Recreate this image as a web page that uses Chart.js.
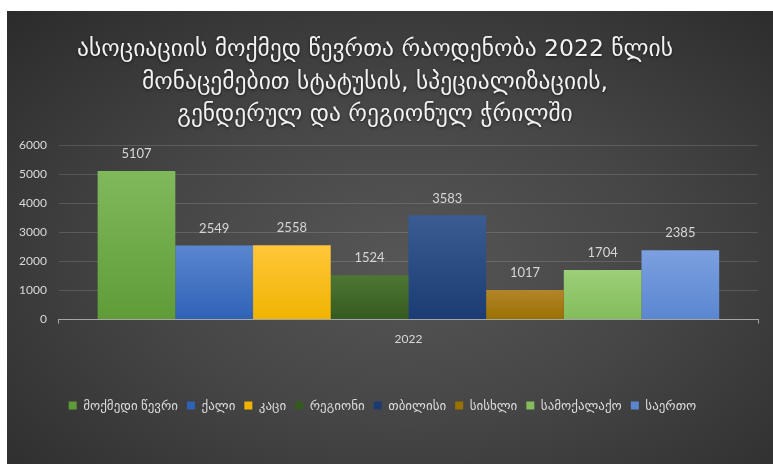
<!DOCTYPE html>
<html>
<head>
<meta charset="utf-8">
<script src="https://cdn.jsdelivr.net/npm/chart.js@4.4.0/dist/chart.umd.min.js"></script>
<style>
  html, body { margin: 0; padding: 0; background: #fff; }
  #wrap {
    position: absolute; left: 7px; top: 11px; width: 766px; height: 453px;
    background: radial-gradient(ellipse at 52% 55%, #565656 0%, #464646 45%, #2b2b2b 100%);
  }
</style>
</head>
<body>
<div id="wrap"><canvas id="myChart" width="766" height="453"></canvas></div>
<script>
// data
var categories = ['2022'];
var seriesNames = ['მოქმედი წევრი', 'ქალი', 'კაცი', 'რეგიონი', 'თბილისი', 'სისხლი', 'სამოქალაქო', 'საერთო'];
var seriesValues = [5107, 2549, 2558, 1524, 3583, 1017, 1704, 2385];
var yTicks = [0, 1000, 2000, 3000, 4000, 5000, 6000];
var titleLines = [
	'ასოციაციის მოქმედ წევრთა რაოდენობა 2022 წლის',
	'მონაცემებით სტატუსის, სპეციალიზაციის,',
	'გენდერულ და რეგიონულ ჭრილში'
];

// colors top / bottom of each bar gradient
var topColors = ['#80b95c', '#5b86d0', '#ffc73a', '#4d7734', '#3b5b93', '#b3852a', '#9ccf78', '#7ca0e0'];
var bottomColors = ['#5f9c37', '#2f62b6', '#f0b400', '#355a1f', '#1b3b73', '#9a7000', '#84bc5c', '#5a86d0'];

var FONT = "Lato, 'DejaVu Sans', sans-serif";

function barGradient(i){
	return function(context){
		var chart = context.chart;
		var y = chart.scales.y;
		if(!y || !chart.chartArea) return topColors[i];
		var top = y.getPixelForValue(seriesValues[i]);
		var bottom = y.getPixelForValue(0);
		var g = chart.ctx.createLinearGradient(0, top, 0, bottom);
		g.addColorStop(0, topColors[i]);
		g.addColorStop(1, bottomColors[i]);
		return g;
	};
}

var datasets = [];
seriesNames.forEach(function(name, i){
	datasets.push({
		label: name,
		data: [seriesValues[i]],
		backgroundColor: barGradient(i),
		borderWidth: 0,
		categoryPercentage: 0.889,
		barPercentage: 1.0
	});
});

//title drawn by hand so it can sit a little left of center like the original
var titlePlugin = {
	id: 'titleLines',
	afterDraw: function(chart){
		var ctx = chart.ctx;
		ctx.save();
		ctx.font = "23.5px 'DejaVu Sans', sans-serif";
		ctx.fillStyle = '#f2f2f2';
		ctx.textAlign = 'center';
		ctx.textBaseline = 'middle';
		ctx.shadowColor = 'rgba(0,0,0,0.6)';
		ctx.shadowBlur = 3;
		ctx.shadowOffsetY = 1;
		var ys = [39, 72, 104];
		titleLines.forEach(function(t, k){
			ctx.fillText(t, 368, ys[k]);
		});
		ctx.restore();
	}
};

//value labels over bars
var valuePlugin = {
	id: 'valueLabels',
	afterDatasetsDraw: function(chart){
		var ctx = chart.ctx;
		ctx.save();
		ctx.font = '13px ' + FONT;
		ctx.fillStyle = '#d6d6d6';
		ctx.textAlign = 'center';
		ctx.textBaseline = 'middle';
		chart.data.datasets.forEach(function(ds, i){
			var meta = chart.getDatasetMeta(i);
			meta.data.forEach(function(bar, k){
				ctx.fillText(String(ds.data[k]), bar.x, bar.y - 17);
			});
		});
		ctx.restore();
	}
};

var ctx = document.getElementById('myChart');
var myChart = new Chart(ctx, {
	type: 'bar',
	data: {
		labels: categories,
		datasets: datasets
	},
	plugins: [titlePlugin, valuePlugin],
	options: {
		responsive: false,
		animation: false,
		layout: {
			padding: { left: 0, right: 15, top: 134, bottom: 42 }
		},
		plugins: {
			title: { display: false },
			tooltip: { enabled: false },
			legend: {
				position: 'bottom',
				labels: {
					color: '#d9d9d9',
					font: { family: FONT, size: 13 },
					boxWidth: 8,
					boxHeight: 8,
					padding: 9
				}
			}
		},
		scales: {
			x: {
				offset: true,
				grid: {
					display: true,
					drawOnChartArea: false,
					color: '#a6a6a6',
					tickLength: 4
				},
				border: { color: '#a6a6a6', width: 1 },
				ticks: {
					color: '#d9d9d9',
					font: { family: FONT, size: 12 },
					padding: 8
				},
				afterFit: function(scale){
					scale.height += 36;
				}
			},
			y: {
				min: 0,
				max: 6000,
				afterBuildTicks: function(scale){
					scale.ticks = yTicks.map(function(v){ return { value: v }; });
				},
				grid: {
					color: 'rgba(255,255,255,0.14)',
					drawTicks: false
				},
				border: { display: false },
				ticks: {
					color: '#d9d9d9',
					font: { family: FONT, size: 12 },
					padding: 12,
					callback: function(v){ return String(v); }
				}
			}
		}
	}
});
</script>
</body>
</html>
